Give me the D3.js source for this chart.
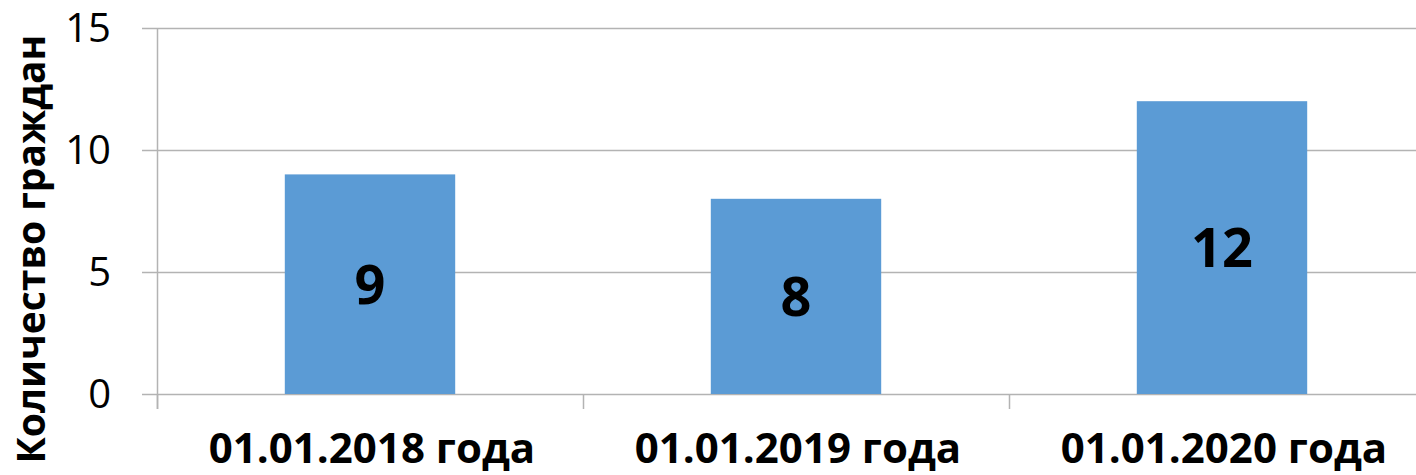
<!DOCTYPE html>
<html>
<head>
<meta charset="utf-8">
<script src="https://cdn.jsdelivr.net/npm/d3@7"></script>
<style>
  html, body { margin: 0; padding: 0; background: #fff; }
  svg { display: block; }
</style>
</head>
<body>
<div id="chart"></div>
<script>
// chart data
const categories = ["01.01.2018 года", "01.01.2019 года", "01.01.2020 года"];
const values = [9, 8, 12];
const yTicks = [0, 5, 10, 15];
const yTitle = "Количество граждан";

const width = 1416, height = 475;
const plotLeft = 157, plotTop = 28, plotBottom = 394;
const step = 426;

const svg = d3.select("#chart").append("svg")
  .attr("width", width)
  .attr("height", height);

const x = d3.scaleBand()
  .domain(categories)
  .range([plotLeft, plotLeft + step * categories.length])
  .padding(0);

const y = d3.scaleLinear()
  .domain([0, 15])
  .range([plotBottom, plotTop]);

const gridColor = "#b3b3b3";

// horizontal gridlines (they also serve as y ticks)
svg.append("g")
  .selectAll("line")
  .data(yTicks)
  .join("line")
  .attr("x1", plotLeft - 15)
  .attr("x2", width)
  .attr("y1", d => Math.round(y(d)) + 0.5)
  .attr("y2", d => Math.round(y(d)) + 0.5)
  .attr("stroke", gridColor)
  .attr("stroke-width", 1.5);

// y axis line
svg.append("line")
  .attr("x1", plotLeft + 0.5).attr("x2", plotLeft + 0.5)
  .attr("y1", y(15)).attr("y2", plotBottom + 15)
  .attr("stroke", gridColor)
  .attr("stroke-width", 1.5);

// x ticks at category boundaries
svg.append("g")
  .selectAll("line")
  .data(categories)
  .join("line")
  .attr("x1", d => Math.round(x(d)) + 0.5)
  .attr("x2", d => Math.round(x(d)) + 0.5)
  .attr("y1", plotBottom)
  .attr("y2", plotBottom + 15)
  .attr("stroke", gridColor)
  .attr("stroke-width", 1.5);

// y tick labels
svg.append("g")
  .selectAll("text")
  .data(yTicks)
  .join("text")
  .attr("x", 111)
  .attr("y", d => y(d))
  .attr("dy", "0.36em")
  .attr("text-anchor", "end")
  .attr("font-family", "'Open Sans', sans-serif")
  .attr("font-size", 40)
  .attr("fill", "#000")
  .text(d => d);

// bars
const barW = x.bandwidth() * 0.4;
svg.append("g")
  .selectAll("rect")
  .data(values)
  .join("rect")
  .attr("x", (d, i) => x(categories[i]) + (x.bandwidth() - barW) / 2)
  .attr("y", d => y(d))
  .attr("width", barW)
  .attr("height", d => y(0) - y(d))
  .attr("fill", "#5b9bd5");

// value labels, centered in bars
svg.append("g")
  .selectAll("text")
  .data(values)
  .join("text")
  .attr("x", (d, i) => x(categories[i]) + x.bandwidth() / 2)
  .attr("y", d => (y(d) + y(0)) / 2)
  .attr("dy", "0.36em")
  .attr("text-anchor", "middle")
  .attr("font-family", "'Open Sans', sans-serif")
  .attr("font-weight", "bold")
  .attr("font-size", 54)
  .attr("fill", "#000")
  .text(d => d);

// category labels
svg.append("g")
  .selectAll("text")
  .data(categories)
  .join("text")
  .attr("x", d => x(d) + x.bandwidth() / 2 + 2)
  .attr("y", 463)
  .attr("text-anchor", "middle")
  .attr("font-family", "'Open Sans', sans-serif")
  .attr("font-weight", "bold")
  .attr("font-size", 42)
  .attr("fill", "#000")
  .text(d => d);

// y axis title
svg.append("text")
  .attr("transform", "translate(45,249) rotate(-90)")
  .attr("text-anchor", "middle")
  .attr("font-family", "'Open Sans', sans-serif")
  .attr("font-weight", "bold")
  .attr("font-size", 39)
  .attr("fill", "#000")
  .text(yTitle);
</script>
</body>
</html>
